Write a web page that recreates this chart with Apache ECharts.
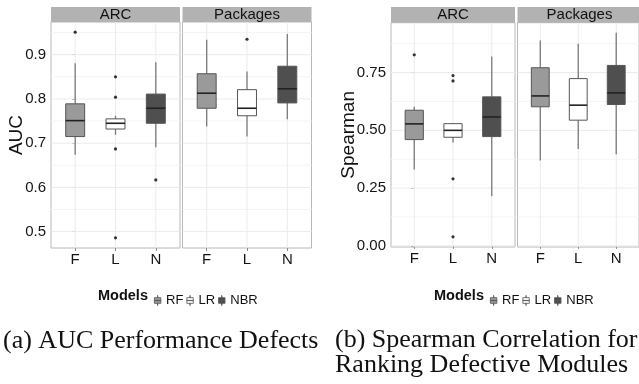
<!DOCTYPE html>
<html>
<head>
<meta charset="utf-8">
<script src="https://cdn.jsdelivr.net/npm/echarts@6/dist/echarts.min.js"></script>
<style>
html,body{margin:0;padding:0;background:#fff;}
#c{width:639px;height:384px;}
</style>
</head>
<body>
<div id="c"></div>
<script>
// ---------- data ----------
const categories = ['F', 'L', 'N'];
const models = ['RF', 'LR', 'NBR'];
const facetNames = ['ARC', 'Packages'];

// box stats per model: [lower whisker, Q1, median, Q3, upper whisker]
const aucArcStats = [
  [0.674, 0.715, 0.751, 0.789, 0.881],
  [0.719, 0.732, 0.745, 0.755, 0.762],
  [0.691, 0.745, 0.779, 0.811, 0.883]
];
const aucPackagesStats = [
  [0.738, 0.779, 0.813, 0.857, 0.934],
  [0.715, 0.762, 0.779, 0.821, 0.862],
  [0.754, 0.791, 0.823, 0.874, 0.947]
];
const aucArcOutliers = [[0, 0.951], [1, 0.850], [1, 0.804], [1, 0.687], [1, 0.486], [2, 0.617]];
const aucPackagesOutliers = [[1, 0.935]];

const spArcStats = [
  [0.330, 0.460, 0.528, 0.587, 0.602],
  [0.447, 0.470, 0.500, 0.529, 0.531],
  [0.215, 0.473, 0.558, 0.645, 0.820]
];
const spPackagesStats = [
  [0.370, 0.602, 0.649, 0.771, 0.889],
  [0.419, 0.544, 0.609, 0.724, 0.875],
  [0.397, 0.612, 0.662, 0.781, 0.922]
];
const spArcOutliers = [[0, 0.827], [1, 0.737], [1, 0.714], [1, 0.290], [1, 0.039]];
const spPackagesOutliers = [];

const aucTicks = [0.5, 0.6, 0.7, 0.8, 0.9];
const aucMinorTicks = [0.55, 0.65, 0.75, 0.85, 0.95];
const spTicks = [0, 0.25, 0.5, 0.75];
const spMinorTicks = [0.125, 0.375, 0.625, 0.875];
const xPositions = [0, 1, 2];

// ---------- style / layout ----------
const FONT = '"Liberation Sans", Arial, Helvetica, sans-serif';
const SERIF = '"Liberation Serif", "Times New Roman", serif';
const fills = ['#9a9a9a', '#ffffff', '#4f4f4f'];
const OUTLINE = '#555555', WHISKER = '#7a7a7a', MEDIAN = '#222222';
const BOX_WIDTH = 0.47;

const grids = [
  { left: 51, top: 22, width: 129, height: 226 },
  { left: 182.5, top: 22, width: 129, height: 226 },
  { left: 391, top: 22.7, width: 124, height: 224.3 },
  { left: 517.5, top: 22.7, width: 124, height: 224.3 }
];
const facets = [
  { stats: aucArcStats, out: aucArcOutliers, ticks: aucTicks, minor: aucMinorTicks, min: 0.463, max: 0.974, dec: 1, first: true, name: 'AUC', gap: 24.5 },
  { stats: aucPackagesStats, out: aucPackagesOutliers, ticks: aucTicks, minor: aucMinorTicks, min: 0.463, max: 0.974, dec: 1, first: false },
  { stats: spArcStats, out: spArcOutliers, ticks: spTicks, minor: spMinorTicks, min: -0.005, max: 0.966, dec: 2, first: true, name: 'Spearman', gap: 33 },
  { stats: spPackagesStats, out: spPackagesOutliers, ticks: spTicks, minor: spMinorTicks, min: -0.005, max: 0.966, dec: 2, first: false }
];

function renderGridLines(params, api) {
  const cs = params.coordSys;
  const kind = api.value(0), v = api.value(1), major = api.value(2);
  const color = major ? '#ebebeb' : '#f4f4f4';
  if (kind === 0) {
    const y = api.coord([0, v])[1];
    return { type: 'line', shape: { x1: cs.x, y1: y, x2: cs.x + cs.width, y2: y }, style: { stroke: color, lineWidth: 1 } };
  }
  const x = api.coord([v, 0])[0];
  return { type: 'line', shape: { x1: x, y1: cs.y, x2: x, y2: cs.y + cs.height }, style: { stroke: color, lineWidth: 1 } };
}

function renderBox(params, api) {
  const x = api.value(0);
  const p = i => api.coord([x, api.value(i)]);
  const lo = p(1), q1 = p(2), md = p(3), q3 = p(4), hi = p(5);
  const w = api.size([BOX_WIDTH, 0])[0];
  const cx = lo[0];
  return {
    type: 'group', children: [
      { type: 'line', shape: { x1: cx, y1: hi[1], x2: cx, y2: q3[1] }, style: { stroke: WHISKER, lineWidth: 1.3 } },
      { type: 'line', shape: { x1: cx, y1: q1[1], x2: cx, y2: lo[1] }, style: { stroke: WHISKER, lineWidth: 1.3 } },
      { type: 'rect', shape: { x: cx - w / 2, y: q3[1], width: w, height: q1[1] - q3[1] }, style: { fill: api.visual('color'), stroke: OUTLINE, lineWidth: 1 } },
      { type: 'line', shape: { x1: cx - w / 2, y1: md[1], x2: cx + w / 2, y2: md[1] }, style: { stroke: MEDIAN, lineWidth: 1.6 } }
    ]
  };
}

const xAxes = [], yAxes = [], series = [], graphics = [];
facets.forEach((f, gi) => {
  const g = grids[gi];
  xAxes.push({
    type: 'value', gridIndex: gi, min: -0.6, max: 2.6,
    axisLine: { show: false },
    splitLine: { show: false },
    axisTick: { show: true, customValues: xPositions, length: 3, lineStyle: { color: '#8a8a8a' } },
    axisLabel: { customValues: xPositions, formatter: v => categories[Math.round(v)], fontFamily: FONT, fontSize: 15, color: '#141414', margin: 4 }
  });
  yAxes.push({
    type: 'value', gridIndex: gi, min: f.min, max: f.max,
    axisLine: { show: false },
    splitLine: { show: false },
    axisTick: { show: f.first, customValues: f.ticks, length: 3, lineStyle: { color: '#8a8a8a' } },
    axisLabel: { show: f.first, customValues: f.ticks, formatter: v => v.toFixed(f.dec), fontFamily: FONT, fontSize: 15, color: '#141414', margin: 5 },
    name: f.first ? f.name : '', nameLocation: 'middle', nameRotate: 90, nameGap: f.gap || 0,
    nameMoveOverlap: false,
    nameTextStyle: { fontFamily: FONT, fontSize: 19, color: '#111' }
  });
  const lines = [];
  f.ticks.forEach(v => lines.push([0, v, 1]));
  f.minor.forEach(v => lines.push([0, v, 0]));
  xPositions.forEach(v => lines.push([1, v, 1]));
  series.push({ type: 'custom', xAxisIndex: gi, yAxisIndex: gi, silent: true, z: 1, renderItem: renderGridLines, data: lines });
  models.forEach((m, mi) => {
    series.push({
      type: 'custom', name: m, xAxisIndex: gi, yAxisIndex: gi, z: 3,
      itemStyle: { color: fills[mi], borderColor: OUTLINE, borderWidth: 1 },
      renderItem: renderBox,
      data: [[mi].concat(f.stats[mi])]
    });
  });
  series.push({
    type: 'scatter', xAxisIndex: gi, yAxisIndex: gi, z: 4, symbolSize: 3.2,
    itemStyle: { color: '#000' }, data: f.out
  });
  // facet strip
  graphics.push({
    type: 'group', left: g.left, top: 7, children: [
      { type: 'rect', shape: { x: 0, y: 0, width: g.width, height: g.top - 7 }, style: { fill: '#b2b2b2' } },
      { type: 'text', x: g.width / 2, y: (g.top - 7) / 2 + 0.5, style: { text: facetNames[gi % 2], fill: '#111', font: '15px ' + FONT, align: 'center', verticalAlign: 'middle' } }
    ]
  });
});

const boxIcon = 'path://M4.8,0h0.4v3h-0.4Z M0.5,3h9v8h-9Z M0.5,6.8h9v0.4h-9Z M4.8,11h0.4v3h-0.4Z';
function legendOf(left) {
  return {
    left: left, top: 289, orient: 'horizontal', itemWidth: 7, itemHeight: 10, itemGap: 3,
    selectedMode: false,
    textStyle: { fontFamily: FONT, fontSize: 13, color: '#111' },
    data: models.map((m, i) => ({ name: m, icon: boxIcon, itemStyle: { color: fills[i], borderColor: '#555', borderWidth: 0.8 } }))
  };
}

const option = {
  animation: false,
  backgroundColor: '#fff',
  textStyle: { fontFamily: FONT },
  grid: grids.map(g => Object.assign({ show: true, borderColor: '#b8b8b8', borderWidth: 1, backgroundColor: 'transparent', containLabel: false }, g)),
  xAxis: xAxes,
  yAxis: yAxes,
  legend: [legendOf(149), legendOf(485)],
  title: [
    { text: 'Models', left: 98, top: 288, padding: 0, textStyle: { fontFamily: FONT, fontSize: 14.5, fontWeight: 'bold', color: '#111' } },
    { text: 'Models', left: 434, top: 288, padding: 0, textStyle: { fontFamily: FONT, fontSize: 14.5, fontWeight: 'bold', color: '#111' } },
    { text: '(a) AUC Performance Defects', left: 3, top: 328, padding: 0, textStyle: { fontFamily: SERIF, fontSize: 26, fontWeight: 'normal', color: '#111', lineHeight: 26 } },
    { text: '(b) Spearman Correlation for\nRanking Defective Modules', left: 335, top: 328, padding: 0, textStyle: { fontFamily: SERIF, fontSize: 26, fontWeight: 'normal', color: '#111', lineHeight: 25 } }
  ],
  graphic: graphics,
  series: series
};

const chart = echarts.init(document.getElementById('c'), null, { renderer: 'canvas' });
chart.setOption(option);
</script>
</body>
</html>
